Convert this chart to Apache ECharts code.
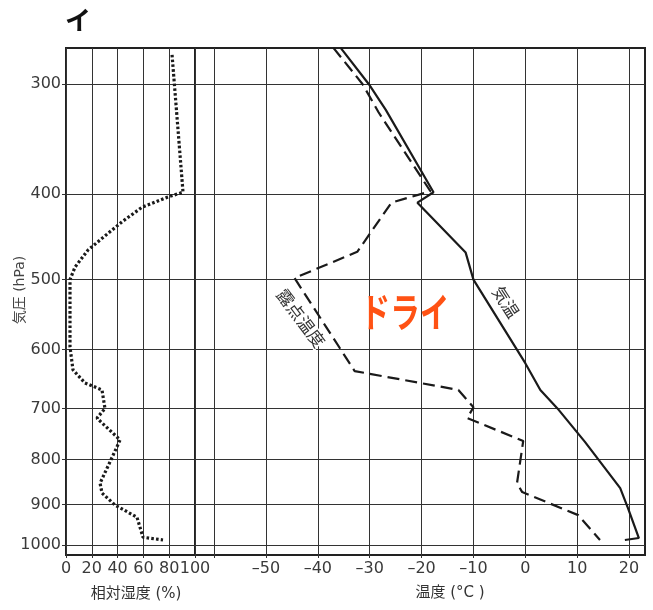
<!DOCTYPE html>
<html><head><meta charset="utf-8">
<script src="https://cdn.jsdelivr.net/npm/echarts@6/dist/echarts.min.js"></script>
<style>html,body{margin:0;padding:0;background:#fff}#c{width:653px;height:610px}</style>
</head><body><div id="c"></div>
<script>
// ---- data ----
const pressureTicks = [300, 400, 500, 600, 700, 800, 900, 1000];
const rhTicks = [0, 20, 40, 60, 80, 100];
const tempTicks = [-60, -50, -40, -30, -20, -10, 0, 10, 20];
const tempLabelValues = [-50, -40, -30, -20, -10, 0, 10, 20];

// 気温 (air temperature)
const tempP = [273, 300, 321, 398, 409, 466, 500, 622, 667, 700, 764, 862, 908, 982, 987];
const tempT = [-35.6, -30.2, -26.9, -17.7, -20.8, -11.5, -10.0, 0.0, 2.9, 6.2, 11.5, 18.3, 19.8, 21.9, 19.2];

// 露点温度 (dew point)
const dewP = [273, 300, 323, 397, 409, 465, 498, 635, 667, 698, 718, 762, 851, 871, 925, 987];
const dewT = [-37.0, -31.4, -28.3, -18.3, -25.8, -32.4, -44.5, -32.9, -12.9, -10.0, -11.2, -0.4, -1.6, -0.6, 10.2, 14.4];

// 相対湿度 (relative humidity)
const rhP = [278, 398, 403, 414, 430, 449, 463, 484, 500, 596, 633, 655, 667, 700, 718, 760, 774, 851, 873, 901, 930, 980, 987];
const rhV = [82.2, 90.7, 79, 58.9, 43.4, 27.9, 17, 7, 3.1, 3.1, 5.4, 14.7, 27.9, 30.2, 24, 41.9, 39.5, 26.4, 27.9, 38, 55, 59.7, 75.2];

// ---- chart ----
const lg = Math.log10;
const pTop = 273.1, pBottom = 1026.5;
const FONT = "'DejaVu Sans','Noto Sans CJK JP',sans-serif";
const CJK = "'Noto Sans CJK JP','DejaVu Sans',sans-serif";
const minus = v => String(v).replace('-', '\u2013');

function yAxisFor(gi, showLabel) {
  const cv = pressureTicks.map(lg);
  return {
    type: 'value', gridIndex: gi, inverse: true, min: lg(pTop), max: lg(pBottom),
    axisLine: { show: false },
    axisTick: { show: showLabel, length: 4, customValues: cv, lineStyle: { color: '#333', width: 1 } },
    axisLabel: { show: showLabel, customValues: cv, margin: 5, color: '#3a3a3a', fontSize: 16, fontFamily: FONT,
      formatter: v => String(Math.round(Math.pow(10, v))) },
    splitLine: { show: true, lineStyle: { color: '#333', width: 1 } }
  };
}

const chart = echarts.init(document.getElementById('c'), null, { renderer: 'canvas' });
chart.setOption({
  animation: false,
  backgroundColor: '#fff',
  grid: [
    { left: 66, width: 129, top: 48, bottom: 55, show: true, borderColor: '#222', borderWidth: 2, containLabel: false },
    { left: 195, right: 8, top: 48, bottom: 55, show: true, borderColor: '#222', borderWidth: 2, containLabel: false }
  ],
  xAxis: [
    { type: 'value', gridIndex: 0, min: 0, max: 100,
      axisLine: { show: false },
      axisTick: { show: true, length: 3, customValues: rhTicks, lineStyle: { color: '#333' } },
      axisLabel: { customValues: rhTicks, margin: 6, color: '#3a3a3a', fontSize: 16, fontFamily: FONT },
      splitLine: { show: true, lineStyle: { color: '#333', width: 1 } } },
    { type: 'value', gridIndex: 1, min: (195 - 525.3) / 5.186, max: (645 - 525.3) / 5.186,
      axisLine: { show: false },
      axisTick: { show: true, length: 3, customValues: tempTicks, lineStyle: { color: '#333' } },
      axisLabel: { customValues: tempLabelValues, margin: 6, color: '#3a3a3a', fontSize: 16, fontFamily: FONT,
        formatter: v => minus(Math.round(v)) },
      splitLine: { show: true, lineStyle: { color: '#333', width: 1 } } }
  ],
  yAxis: [yAxisFor(0, true), yAxisFor(1, false)],
  series: [
    { name: '相対湿度', type: 'line', xAxisIndex: 0, yAxisIndex: 0, symbol: 'none', smooth: false,
      data: rhV.map((v, i) => [v, lg(rhP[i])]),
      lineStyle: { color: '#1a1a1a', width: 3.2, type: [2.6, 2.2], cap: 'butt' }, z: 5 },
    { name: '気温', type: 'line', xAxisIndex: 1, yAxisIndex: 1, symbol: 'none',
      data: tempT.map((v, i) => [v, lg(tempP[i])]),
      lineStyle: { color: '#1a1a1a', width: 2.2, type: 'solid' }, z: 5 },
    { name: '露点温度', type: 'line', xAxisIndex: 1, yAxisIndex: 1, symbol: 'none',
      data: dewT.map((v, i) => [v, lg(dewP[i])]),
      lineStyle: { color: '#1a1a1a', width: 2.2, type: [12, 6] }, z: 5 }
  ],
  graphic: [
    { type: 'text', x: 78, y: 20, style: { text: 'イ', fill: '#111', font: "bold 26px " + CJK, textAlign: 'center', textVerticalAlign: 'middle' } },
    { type: 'text', x: 405, y: 312, scaleX: 0.74, z: 10,
      style: { text: 'ドライ', fill: '#ff5214', font: "bold 40px " + CJK, textAlign: 'center', textVerticalAlign: 'middle' } },
    { type: 'text', x: 301, y: 318, rotation: -53 * Math.PI / 180, z: 10,
      style: { text: '露点温度', fill: '#333', font: "17px " + CJK, textAlign: 'center', textVerticalAlign: 'middle', stroke: '#fff', lineWidth: 3 } },
    { type: 'text', x: 506, y: 302, rotation: -57 * Math.PI / 180, z: 10,
      style: { text: '気温', fill: '#333', font: "17px " + CJK, textAlign: 'center', textVerticalAlign: 'middle', stroke: '#fff', lineWidth: 3 } },
    { type: 'text', x: 136, y: 594, style: { text: '相対湿度 (%)', fill: '#333', font: "15px " + FONT, textAlign: 'center', textVerticalAlign: 'middle' } },
    { type: 'text', x: 450, y: 593, style: { text: '温度 (°C )', fill: '#333', font: "15px " + FONT, textAlign: 'center', textVerticalAlign: 'middle' } },
    { type: 'text', x: 20, y: 290, rotation: Math.PI / 2, style: { text: '気圧 (hPa)', fill: '#444', font: "14px " + FONT, textAlign: 'center', textVerticalAlign: 'middle' } }
  ]
});
</script></body></html>
